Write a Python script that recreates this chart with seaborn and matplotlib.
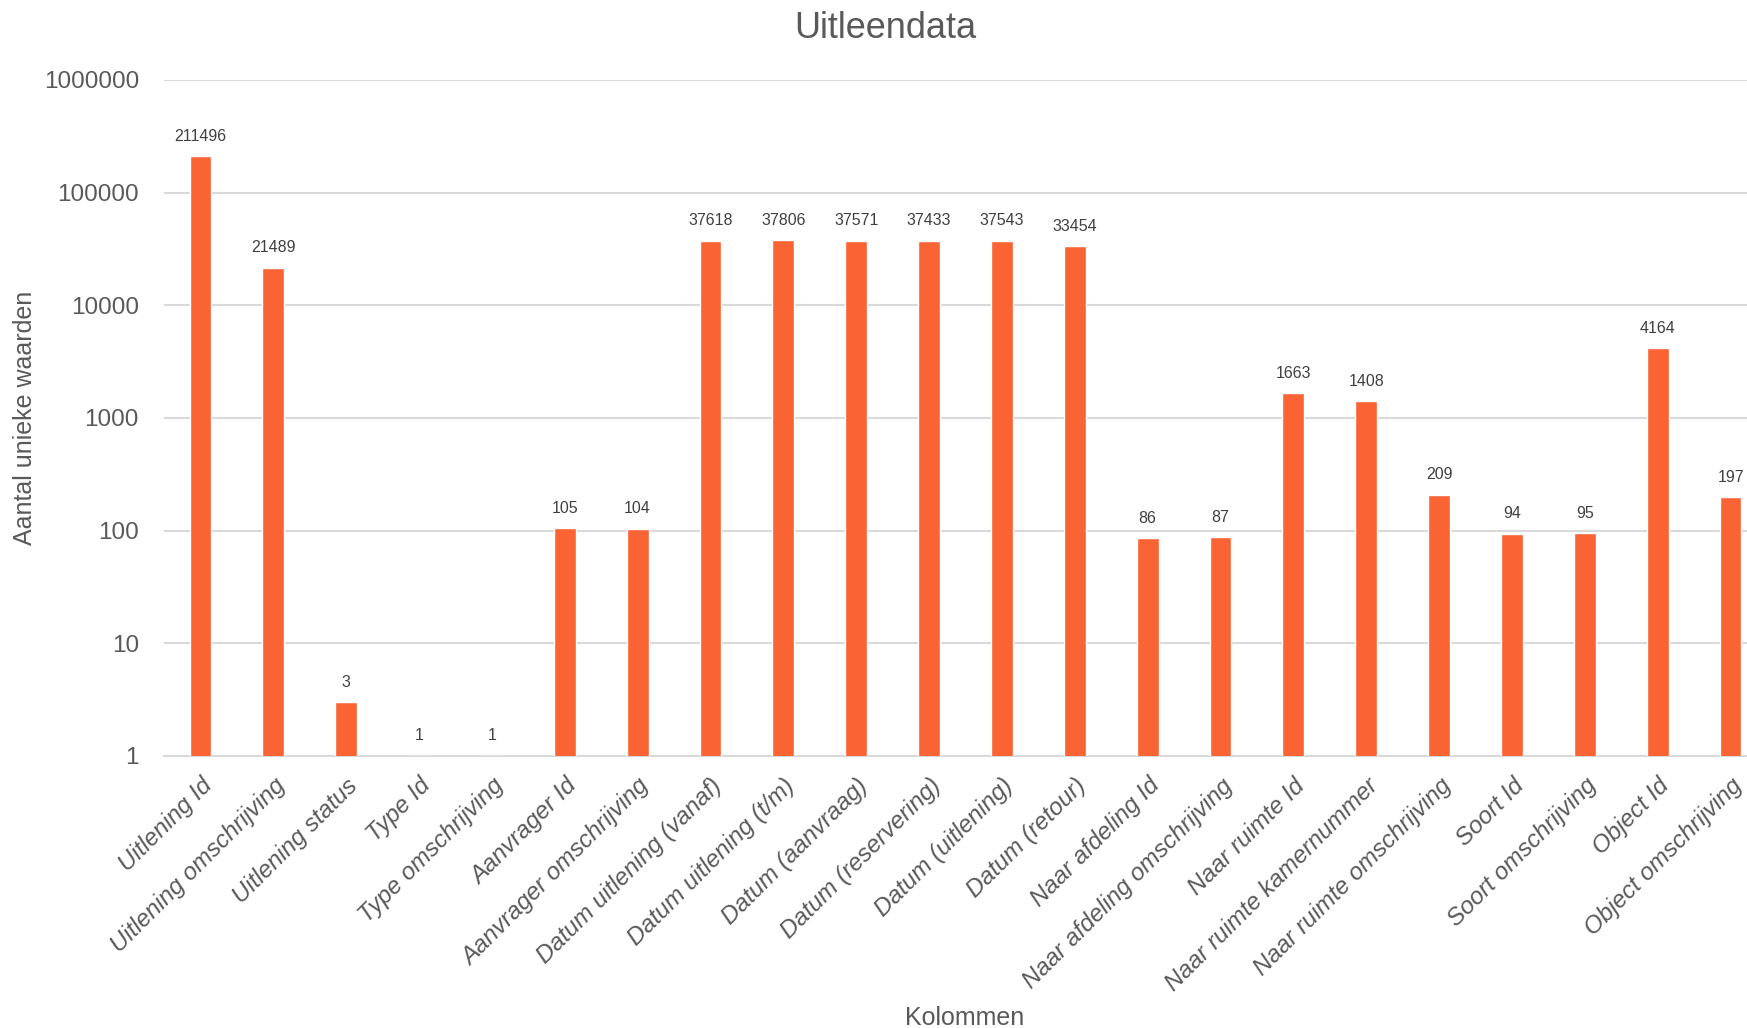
import matplotlib
matplotlib.use("Agg")
import matplotlib.pyplot as plt
import seaborn as sns
import pandas as pd

categories = [
    "Uitlening Id", "Uitlening omschrijving", "Uitlening status", "Type Id",
    "Type omschrijving", "Aanvrager Id", "Aanvrager omschrijving",
    "Datum uitlening (vanaf)", "Datum uitlening (t/m)", "Datum (aanvraag)",
    "Datum (reservering)", "Datum (uitlening)", "Datum (retour)",
    "Naar afdeling Id", "Naar afdeling omschrijving", "Naar ruimte Id",
    "Naar ruimte kamernummer", "Naar ruimte omschrijving", "Soort Id",
    "Soort omschrijving", "Object Id", "Object omschrijving",
]
values = [211496, 21489, 3, 1, 1, 105, 104, 37618, 37806, 37571, 37433,
          37543, 33454, 86, 87, 1663, 1408, 209, 94, 95, 4164, 197]
y_ticks = [1, 10, 100, 1000, 10000, 100000, 1000000]

df = pd.DataFrame({"Kolom": categories, "Waarde": values})

sns.set_theme(style="white")
plt.rcParams['font.family'] = ['Liberation Sans', 'DejaVu Sans']

fig = plt.figure(figsize=(17.47, 10.28), dpi=100)
ax = fig.add_axes([164 / 1747, 1 - 756 / 1028, (1767 - 164) / 1747, (756 - 80) / 1028])

sns.barplot(data=df, x="Kolom", y="Waarde", color="#FA6334", width=0.3,
            saturation=1, ax=ax, zorder=3)
ax.set_yscale("log")
ax.set_ylim(1, 1000000)
ax.set_xlim(-0.5, len(categories) - 0.5)
ax.set_yticks(y_ticks)
ax.set_yticklabels([str(t) for t in y_ticks])
ax.minorticks_off()
ax.yaxis.grid(True, color="#D9D9D9", linewidth=1.5, zorder=0)
ax.set_axisbelow(True)

for s in ["top", "right", "left"]:
    ax.spines[s].set_visible(False)
ax.spines["bottom"].set_color("#D9D9D9")
ax.spines["bottom"].set_linewidth(1.5)

ax.tick_params(axis="y", length=0, pad=18, labelsize=17.5, labelcolor="#595959")
ax.tick_params(axis="x", length=0, pad=13, labelsize=17.5, labelcolor="#595959")
ax.set_xticks(range(len(categories)))
ax.set_xticklabels(categories, rotation=45, ha="right", rotation_mode="anchor",
                   style="italic")

for cont in ax.containers:
    ax.bar_label(cont, labels=[str(v) for v in values], padding=9,
                 fontsize=11.5, color="#404040")

ax.set_ylabel("Aantal unieke waarden", fontsize=18, color="#595959", labelpad=5)
ax.set_xlabel("")
fig.text(965 / 1747, 1 - 1018 / 1028, "Kolommen", fontsize=18, color="#595959",
         ha="center", va="center")
fig.text(885 / 1747, 1 - 28 / 1028, "Uitleendata", fontsize=26, color="#595959",
         ha="center", va="center")

fig.savefig("out.png", dpi=100)
